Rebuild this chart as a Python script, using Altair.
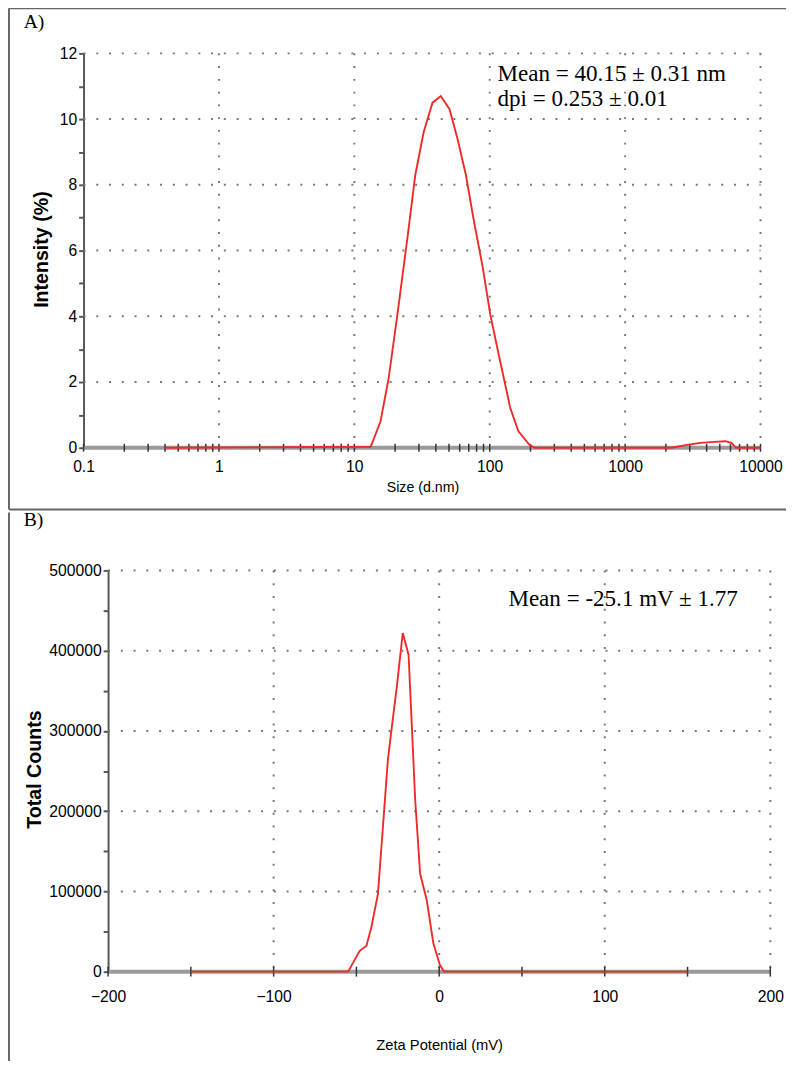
import altair as alt
import pandas as pd

# ---------------- Panel A: size distribution ----------------
size_nm = [0.4, 13.2, 15.6, 17.9, 20.8, 24.7, 28.2, 32.5, 37.8, 43.5, 50.5, 57.8,
           66.7, 76.4, 88.7, 101, 117, 142, 163, 196, 215, 2200, 2800, 3600,
           4600, 5500, 6100, 6600, 10000]
intensity = [0, 0.03, 0.8, 2.1, 4.05, 6.4, 8.3, 9.6, 10.5, 10.7, 10.3, 9.4,
             8.3, 6.9, 5.5, 4.05, 2.8, 1.2, 0.5, 0.1, 0, 0, 0.08, 0.15,
             0.18, 0.2, 0.15, 0, 0]
a_x_labels = [0.1, 1, 10, 100, 1000, 10000]
a_x_ticks = [m * d for d in [0.1, 1, 10, 100, 1000] for m in range(1, 10)] + [10000]
a_v_grid = [1, 10, 100, 1000, 10000]
a_h_grid = [2, 4, 6, 8, 10, 12]
a_y_ticks = list(range(0, 13))
a_notes = ["Mean = 40.15 \u00b1 0.31 nm", "dpi = 0.253 \u00b1 0.01"]
a_notes_x = [114, 114]
a_notes_y = [11.16, 10.41]

# ---------------- Panel B: zeta potential ----------------
zeta_mv = [-150, -55, -48, -44, -41, -37, -34, -31, -28.6, -25.6, -22, -18.5,
           -16.5, -14.5, -11.5, -7.5, -3.5, 0.5, 3, 150]
counts = [0, 0, 26000, 32000, 55000, 97000, 180000, 264000, 305000, 355000,
          422000, 395000, 305000, 214000, 122000, 89000, 35000, 8000, 0, 0]
b_x_labels = [-200, -100, 0, 100, 200]
b_x_ticks = [-200, -150, -100, -50, 0, 50, 100, 150, 200]
b_v_grid = [-100, 0, 100, 200]
b_h_grid = [100000, 200000, 300000, 400000, 500000]
b_y_ticks = list(range(0, 500001, 50000))
b_note = ["Mean = -25.1 mV \u00b1 1.77"]
b_note_x = [41.8]
b_note_y = [455500]

RED = "#f02828"
GRID = "#777777"
FRAME = "#666666"
SANS = "Liberation Sans, Arial, sans-serif"
SERIF = "Liberation Serif, Times New Roman, serif"

one = pd.DataFrame({"k": [0]})


def pix_rule(x, y, x2=None, y2=None):
    enc = {"x": alt.value(x), "y": alt.value(y)}
    if x2 is not None:
        enc["x2"] = alt.value(x2)
    if y2 is not None:
        enc["y2"] = alt.value(y2)
    return alt.Chart(one).mark_rule(color=FRAME, strokeWidth=2).encode(**enc)


def pix_text(txt, x, y, **kw):
    return alt.Chart(one).mark_text(text=txt, color="black", **kw).encode(
        x=alt.value(x), y=alt.value(y))


# ---------- A ----------
WA, HA = 690, 402
xA = alt.Scale(type="log", domain=[0.1, 10000], nice=False)
yA = alt.Scale(domain=[0, 12], nice=False, zero=False)
axXA = alt.Axis(values=a_x_labels, format="~g", ticks=False, domain=False,
                grid=False, labelPadding=11, labelFlush=False, title=None)
axYA = alt.Axis(values=a_y_ticks, grid=False, domain=True,
                domainColor="#555555", domainWidth=2,
                tickColor="#555555", tickWidth=2, tickSize=5,
                labelPadding=2, title=None,
                labelExpr="datum.value % 2 == 0 ? datum.label : ''")

dfA = pd.DataFrame({"size": size_nm, "intensity": intensity})

a_vgrid = alt.Chart(pd.DataFrame({"g": a_v_grid})).mark_rule(
    color=GRID, strokeWidth=2, strokeDash=[2, 11]).encode(
    x=alt.X("g:Q", scale=xA, axis=axXA), y=alt.value(0), y2=alt.value(HA))
a_hgrid = alt.Chart(pd.DataFrame({"g": a_h_grid})).mark_rule(
    color=GRID, strokeWidth=2, strokeDash=[2, 11]).encode(
    y=alt.Y("g:Q", scale=yA, axis=axYA), x=alt.value(0), x2=alt.value(WA))
a_base = alt.Chart(pd.DataFrame({"b": [0]})).mark_rule(
    color="#9a9a9a", strokeWidth=4).encode(
    y=alt.Y("b:Q", scale=yA, axis=axYA), x=alt.value(0), x2=alt.value(WA))
a_ticks = alt.Chart(pd.DataFrame({"t": a_x_ticks})).mark_rule(
    color="#333333", strokeWidth=1.5).encode(
    x=alt.X("t:Q", scale=xA, axis=axXA), y=alt.value(HA - 4), y2=alt.value(HA + 4))

a_line = alt.Chart(dfA).mark_line(color=RED, strokeWidth=1.9).encode(
    x=alt.X("size:Q", scale=xA, axis=axXA),
    y=alt.Y("intensity:Q", scale=yA, axis=axYA),
)

a_note_chart = alt.Chart(pd.DataFrame({"t": a_notes, "x": a_notes_x, "y": a_notes_y})).mark_text(
    font=SERIF, fontSize=23.5, align="left", baseline="alphabetic", color="black").encode(
    x=alt.X("x:Q", scale=xA, axis=axXA), y=alt.Y("y:Q", scale=yA, axis=axYA), text="t:N")

chartA = alt.layer(
    pix_rule(-76, -46, x2=716),
    pix_rule(-76, -46, y2=465),
    pix_rule(-76, 465, x2=716),
    a_vgrid, a_hgrid, a_base, a_ticks, a_line, a_note_chart,
    pix_text("A)", -61, -26, font=SERIF, fontSize=20, align="left", baseline="alphabetic"),
    pix_text("Intensity (%)", -42, 200, font=SANS, fontSize=20, fontWeight="bold",
             angle=270, align="center", baseline="middle"),
    pix_text("Size (d.nm)", 346, 443, font=SANS, fontSize=14.5, align="center",
             baseline="middle"),
).properties(width=WA, height=HA)

# ---------- B ----------
WB, HB = 700, 409
xB = alt.Scale(domain=[-214.81, 200], nice=False, zero=False)
yB = alt.Scale(domain=[0, 500000], nice=False, zero=False)
axXB = alt.Axis(values=b_x_labels, format="d", ticks=False, domain=False,
                grid=False, labelPadding=17, labelFlush=False, title=None)
axYB = alt.Axis(values=b_y_ticks, format="d", grid=False, domain=True,
                offset=-25, domainColor="#555555", domainWidth=2,
                tickColor="#555555", tickWidth=2, tickSize=5,
                labelPadding=2, title=None,
                labelExpr="datum.value % 100000 == 0 ? datum.label : ''")

dfB = pd.DataFrame({"zeta": zeta_mv, "counts": counts})

b_vgrid = alt.Chart(pd.DataFrame({"g": b_v_grid})).mark_rule(
    color=GRID, strokeWidth=2, strokeDash=[2, 11]).encode(
    x=alt.X("g:Q", scale=xB, axis=axXB), y=alt.value(0), y2=alt.value(HB))
b_hgrid = alt.Chart(pd.DataFrame({"g": b_h_grid, "x1": [-200] * 5, "x2": [200] * 5})).mark_rule(
    color=GRID, strokeWidth=2, strokeDash=[2, 11]).encode(
    y=alt.Y("g:Q", scale=yB, axis=axYB),
    x=alt.X("x1:Q", scale=xB, axis=axXB), x2="x2:Q")
b_base = alt.Chart(pd.DataFrame({"b": [0], "x1": [-200], "x2": [200]})).mark_rule(
    color="#9a9a9a", strokeWidth=4).encode(
    y=alt.Y("b:Q", scale=yB, axis=axYB),
    x=alt.X("x1:Q", scale=xB, axis=axXB), x2="x2:Q")
b_ticks = alt.Chart(pd.DataFrame({"t": b_x_ticks})).mark_rule(
    color="#333333", strokeWidth=1.5).encode(
    x=alt.X("t:Q", scale=xB, axis=axXB), y=alt.value(HB - 5), y2=alt.value(HB + 5))

b_line = alt.Chart(dfB).mark_line(color=RED, strokeWidth=1.9).encode(
    x=alt.X("zeta:Q", scale=xB, axis=axXB),
    y=alt.Y("counts:Q", scale=yB, axis=axYB),
)

b_note_chart = alt.Chart(pd.DataFrame({"t": b_note, "x": b_note_x, "y": b_note_y})).mark_text(
    font=SERIF, fontSize=23.5, align="left", baseline="alphabetic", color="black").encode(
    x=alt.X("x:Q", scale=xB, axis=axXB), y=alt.Y("y:Q", scale=yB, axis=axYB), text="t:N")

chartB = alt.layer(
    pix_rule(-76, -59, y2=500),
    b_vgrid, b_hgrid, b_base, b_ticks, b_line, b_note_chart,
    pix_text("B)", -61, -45, font=SERIF, fontSize=20, align="left", baseline="alphabetic"),
    pix_text("Total Counts", -49, 203, font=SANS, fontSize=20, fontWeight="bold",
             angle=270, align="center", baseline="middle"),
    pix_text("Zeta Potential (mV)", 363, 484, font=SANS, fontSize=15, align="center",
             baseline="middle"),
).properties(width=WB, height=HB)

chart = alt.vconcat(
    chartA, chartB, spacing=0,
    padding={"top": -11, "left": 0, "right": 0, "bottom": 0},
).configure_view(
    stroke=None
).configure_axis(
    labelFont=SANS, labelFontSize=16, labelColor="black"
)

chart.save("out.html", embed_options={"renderer": "svg", "actions": False})
